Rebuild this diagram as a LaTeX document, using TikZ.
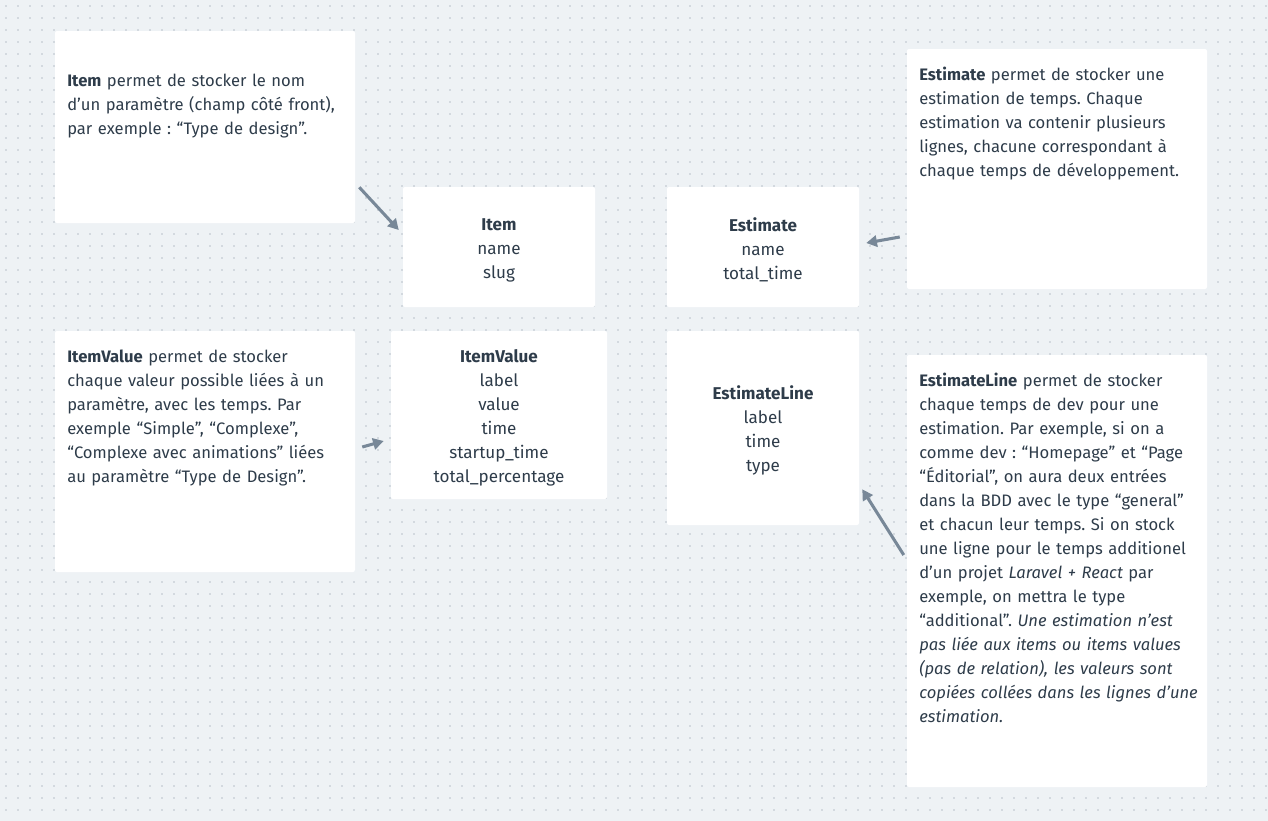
\documentclass[tikz,border=0pt]{standalone}
\usepackage{fontspec}
\setmainfont{Fira Sans}
\usepackage{xcolor}
\usepackage{tikz}
\usetikzlibrary{positioning,calc,arrows.meta}
\frenchspacing

\definecolor{canvas}{HTML}{EEF2F5}
\definecolor{dotgrey}{HTML}{D3D9DF}
\definecolor{ink}{HTML}{2E3C4A}
\definecolor{arrowgrey}{HTML}{788898}

\begin{document}
\begin{tikzpicture}[x=0.75pt,y=-0.75pt,
    card/.style={fill=white, rounded corners=1.5pt, inner sep=0pt},
    entity/.style={card, minimum width=144pt, align=center, text=ink,
        font=\fontsize{12.8}{18}\selectfont},
    notetext/.style={anchor=base west, inner sep=0pt, text width=220pt, align=left,
        text=ink, font=\fontsize{12.45}{18}\selectfont},
    link/.style={arrowgrey, line width=2.3pt, -{Triangle[length=8pt,width=8.5pt]}}]
    \useasboundingbox (0,0) rectangle (1268,821);
    \fill[canvas] (0,0) rectangle (1268,821);

    % dotted grid
    \foreach \y in {6,18,...,821}
        \draw[dotgrey, line width=1.5pt, dash pattern=on 1.5pt off 7.5pt] (5,\y) -- (1268,\y);

    % Item
    \node[card, minimum width=225pt, minimum height=144pt] (nItem) at (205,127) {};
    \node[notetext] (tItem) at (67,86) {\textbf{Item} permet de stocker le nom\\
        d’un paramètre (champ côté front),\\
        par exemple : “Type de design”.};
    \node[entity, minimum height=90pt] (eItem) at (499,247)
        {\rule{0pt}{14pt}\textbf{Item}\\name\\slug};

    % Estimate
    \node[card, minimum width=225pt, minimum height=180pt] (nEstimate) at (1057,169) {};
    \node[notetext] (tEstimate) at (919,80) {\textbf{Estimate} permet de stocker une\\
        estimation de temps. Chaque\\
        estimation va contenir plusieurs\\
        lignes, chacune correspondant à\\
        chaque temps de développement.};
    \node[entity, minimum height=90pt] (eEstimate) at (763,247)
        {\rule{0pt}{14pt}\textbf{Estimate}\\name\\total\_time};

    % ItemValue
    \node[card, minimum width=225pt, minimum height=180.75pt] (nItemValue) at (205,451.5) {};
    \node[notetext] (tItemValue) at (67,362) {\textbf{ItemValue} permet de stocker\\
        chaque valeur possible liées à un\\
        paramètre, avec les temps. Par\\
        exemple “Simple”, “Complexe”,\\
        “Complexe avec animations” liées\\
        au paramètre “Type de Design”.};
    \node[entity, minimum width=162pt, minimum height=126pt] (eItemValue) at (499,415)
        {\rule{0pt}{14pt}\textbf{ItemValue}\\label\\value\\time\\startup\_time\\total\_percentage};

    % EstimateLine
    \node[card, minimum width=225pt, minimum height=324pt] (nEstimateLine) at (1057,571) {};
    \node[notetext] (tEstimateLine) at (919,386) {\textbf{EstimateLine} permet de stocker\\
        chaque temps de dev pour une\\
        estimation. Par exemple, si on a\\
        comme dev : “Homepage” et “Page\\
        “Éditorial”, on aura deux entrées\\
        dans la BDD avec le type “general”\\
        et chacun leur temps. Si on stock\\
        une ligne pour le temps additionel\\
        d’un projet {\itshape Laravel + React} par\\
        exemple, on mettra le type\\
        “additional”. {\itshape Une estimation n’est}\\
        {\itshape pas liée aux items ou items values}\\
        {\itshape (pas de relation), les valeurs sont}\\
        {\itshape copiées collées dans les lignes d’une}\\
        {\itshape estimation.}};
    \node[entity, minimum height=145.5pt] (eEstimateLine) at (763,428)
        {\rule{0pt}{14pt}\textbf{EstimateLine}\\label\\time\\type};

    % arrows from notes to tables
    \draw[link] ($(nItem.south east)+(4,-36)$) -- ($(eItem.west)+(-4,-17)$);
    \draw[link] ($(nEstimate.west)+(-7,68)$) -- ($(eEstimate.east)+(7,-4)$);
    \draw[link] ($(nItemValue.east)+(7,-4.5)$) -- ($(eItemValue.west)+(-7,26)$);
    \draw[link] ($(nEstimateLine.west)+(-3,-16)$) -- ($(eEstimateLine.south east)+(3,-36)$);
\end{tikzpicture}
\end{document}
